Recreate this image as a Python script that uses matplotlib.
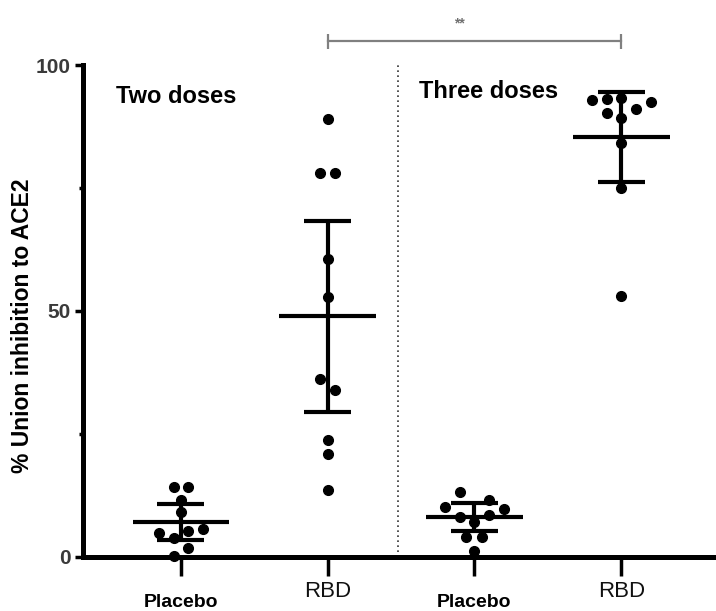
import matplotlib
matplotlib.use("Agg")
import matplotlib.pyplot as plt
from matplotlib.ticker import MultipleLocator

plt.rcParams['font.family'] = ['Liberation Sans', 'DejaVu Sans']
narrow = ['Liberation Sans Narrow', 'Liberation Sans']

# 群ごとのデータ
groups = ["Placebo", "RBD", "Placebo", "RBD"]
placebo_two = [14.2, 14.2, 11.6, 9.1, 4.9, 5.3, 5.7, 3.9, 1.8, 0.2]
placebo_two_dx = [-0.05, 0.05, 0.0, 0.0, -0.15, 0.05, 0.15, -0.05, 0.05, -0.05]
rbd_two = [89.0, 78.1, 78.1, 60.6, 52.9, 36.1, 33.9, 23.7, 20.9, 13.6]
rbd_two_dx = [0.0, -0.05, 0.05, 0.0, 0.0, -0.05, 0.05, 0.0, 0.0, 0.0]
placebo_three = [13.2, 10.1, 11.6, 9.7, 8.1, 8.5, 7.1, 4.1, 4.1, 1.2]
placebo_three_dx = [-0.1, -0.2, 0.1, 0.2, -0.1, 0.1, 0.0, -0.06, 0.05, 0.0]
rbd_three = [92.9, 93.1, 90.3, 93.3, 89.2, 91.1, 92.5, 84.2, 75.1, 53.0]
rbd_three_dx = [-0.2, -0.1, -0.1, 0.0, 0.0, 0.1, 0.2, 0.0, 0.0, 0.0]
means = [7.1, 48.9, 8.1, 85.4]
sds = [3.6, 19.4, 2.8, 9.1]

values = [placebo_two, rbd_two, placebo_three, rbd_three]
offsets = [placebo_two_dx, rbd_two_dx, placebo_three_dx, rbd_three_dx]

fig = plt.figure(figsize=(7.16, 6.11), dpi=100)
ax = fig.add_axes([0.116, 0.0884, 0.884, 0.8052])

for i, (vals, dxs) in enumerate(zip(values, offsets)):
    pos = i + 1
    ax.plot([pos + d for d in dxs], vals, 'o', color='black', markersize=7,
            clip_on=False, zorder=3)
    m, s = means[i], sds[i]
    ax.hlines(m, pos - 0.33, pos + 0.33, color='black', lw=3.0, zorder=4)
    ax.hlines([m - s, m + s], pos - 0.16, pos + 0.16, color='black', lw=3.0, zorder=4)
    ax.vlines(pos, m - s, m + s, color='black', lw=3.0, zorder=4)

# 区切りの点線
ax.vlines(2.48, 0, 100, color='#333333', lw=1.2, linestyles=(0, (1, 2)))

# 有意差のブラケット
ax.plot([2, 4], [104.9, 104.9], color='#808080', lw=1.6, clip_on=False)
ax.vlines([2, 4], 103.2, 106.4, color='#808080', lw=1.6, clip_on=False)
ax.text(2.9, 108.5, "**", color='#707070', fontsize=10, fontweight='bold',
        ha='center', va='center')

ax.text(0.56, 93.7, "Two doses", fontsize=17, fontweight='bold', va='center')
ax.text(2.62, 94.7, "Three doses", fontsize=17, fontweight='bold', va='center')

ax.set_xlim(0.333, 4.646)
ax.set_ylim(0, 100)
ax.set_xticks([1, 2, 3, 4])
ax.set_xticklabels(groups)
for lab in ax.get_xticklabels():
    if lab.get_text() == "Placebo":
        lab.set_fontweight('bold')
        lab.set_fontsize(14)
        lab.set_y(-0.028)
    else:
        lab.set_fontfamily(narrow)
        lab.set_fontsize(16)
        lab.set_color('#111111')
ax.set_yticks([0, 50, 100])
ax.set_yticklabels(["0", "50", "100"], fontfamily=narrow,
                   fontweight='bold', fontsize=15, color='#3a3a3a')
ax.yaxis.set_minor_locator(MultipleLocator(25))
ax.tick_params(axis='y', which='major', length=6, width=2.5, pad=3)
ax.tick_params(axis='y', which='minor', length=3, width=2.5)
ax.tick_params(axis='x', length=14, width=2.5, pad=3)

ax.set_ylabel("% Union inhibition to ACE2", fontsize=16.5, fontweight='bold')
ax.yaxis.set_label_coords(-0.078, 0.47)

for side in ['top', 'right']:
    ax.spines[side].set_visible(False)
ax.spines['left'].set_linewidth(3.6)
ax.spines['bottom'].set_linewidth(3.6)

fig.savefig("out.png", dpi=100)
